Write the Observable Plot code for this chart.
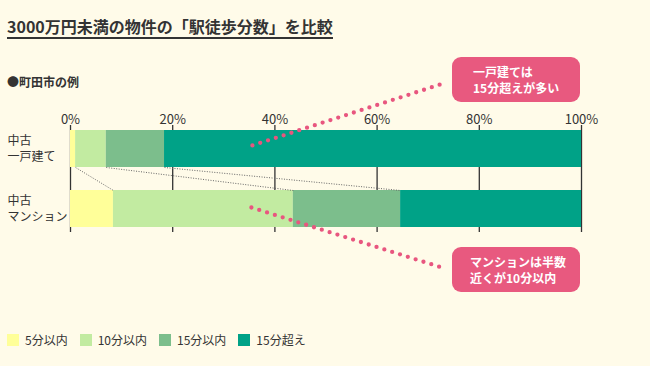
<!DOCTYPE html>
<html><head><meta charset="utf-8">
<script src="https://cdn.jsdelivr.net/npm/d3@7"></script>
<script src="https://cdn.jsdelivr.net/npm/@observablehq/plot@0.6"></script>
<style>
body{margin:0;background:#fffbe9;}
#wrap{position:relative;width:650px;height:366px;background:#fffbe9;font-family:"Noto Sans CJK JP","Noto Sans",sans-serif;color:#333;overflow:hidden}
#title{position:absolute;left:7px;top:16px;font-size:16px;font-weight:bold;line-height:20px;padding-bottom:1px;border-bottom:2px solid #333;white-space:nowrap}
#sub{position:absolute;left:7px;top:74px;font-size:12px;font-weight:bold;line-height:16px}
#chart{position:absolute;left:0;top:0}
.note{position:absolute;left:452px;width:128px;height:45px;border-radius:9px;background:#e8597f;color:#fff;font-size:12px;font-weight:bold;line-height:16px;display:flex;flex-direction:column;justify-content:center;box-sizing:border-box}
#legend{position:absolute;left:7px;top:331px;display:flex;font-size:12px;line-height:18px}
#legend .item{display:flex;align-items:center;margin-right:12px}
#legend .sw{width:12px;height:12px;margin-right:6px}
</style></head><body>
<div id="wrap">
  <div id="title">3000万円未満の物件の「駅徒歩分数」を比較</div>
  <div id="sub">●町田市の例</div>
  <div id="chart"></div>
  <div class="note" style="top:57px;padding-left:21px">一戸建ては<br>15分超えが多い</div>
  <div class="note" style="top:247px;padding-left:18px">マンションは半数<br>近くが10分以内</div>
  <div id="legend"></div>
</div>
<script>
const types = ["中古\n一戸建て", "中古\nマンション"];
const cats = ["5分以内", "10分以内", "15分以内", "15分超え"];
const colors = ["#ffff99", "#c2eba1", "#7cbe8c", "#00a287"];
const house = [1.0, 6.0, 11.4, 81.6];
const mansion = [8.4, 35.2, 21.0, 35.4];
const ticks = [0, 20, 40, 60, 80, 100];
// annotation pointer lines: [x in %, y in row units]
const note1 = [[35.6, -0.06], [73.6, -1.11]];
const note2 = [[35.4, 0.975], [73.2, 1.99]];

const half = 0.3083;
const series = [house, mansion];
const segs = [];
const bounds = [];
series.forEach((vals, r) => {
  let c = 0;
  const b = [];
  vals.forEach((v, k) => {
    segs.push({row: r, cat: cats[k], x1: c, x2: c + v});
    c += v;
    b.push(c);
  });
  bounds.push(b);
});
const connectors = [0, 1, 2].map(k => ({x1: bounds[0][k], x2: bounds[1][k], y1: half, y2: 1 - half}));
const pink = [...note1.map(p => ({id: 1, x: p[0], y: p[1]})), ...note2.map(p => ({id: 2, x: p[0], y: p[1]}))];

const chart = Plot.plot({
  width: 650, height: 366,
  marginLeft: 70, marginRight: 69, marginTop: 125, marginBottom: 134,
  x: {domain: [0, 100], axis: null, label: null},
  y: {domain: [-23.5 / 60, 83.5 / 60], reverse: true, axis: null, label: null},
  color: {domain: cats, range: colors},
  style: {background: "transparent", fontFamily: '"Noto Sans CJK JP","Noto Sans",sans-serif', color: "#333", overflow: "visible"},
  marks: [
    Plot.ruleX(ticks, {stroke: "#333", strokeWidth: 1.3}),
    Plot.rect(segs, {x1: "x1", x2: "x2", y1: d => d.row - half, y2: d => d.row + half, fill: "cat"}),
    Plot.link(connectors, {x1: "x1", x2: "x2", y1: "y1", y2: "y2", stroke: "#666", strokeWidth: 1, strokeDasharray: "1,1.5"}),
    Plot.axisX({anchor: "top", ticks, tickFormat: d => d + "%", tickSize: 0, tickPadding: 2, fontSize: 13, label: null}),
    Plot.text(types, {x: 0, y: (d, i) => i, text: d => d, textAnchor: "start", dx: -63, dy: -1, fontSize: 12, lineHeight: 1.34, fill: "#333"}),
    Plot.line(pink, {x: "x", y: "y", z: "id", stroke: "#e8567f", strokeWidth: 4.3, strokeLinecap: "round", strokeDasharray: "0,8.2"})
  ]
});
document.getElementById("chart").appendChild(chart);

const legend = d3.select("#legend");
cats.forEach((c, i) => {
  const it = legend.append("div").attr("class", "item");
  it.append("div").attr("class", "sw").style("background", colors[i]);
  it.append("span").text(c);
});
</script>
</body></html>
